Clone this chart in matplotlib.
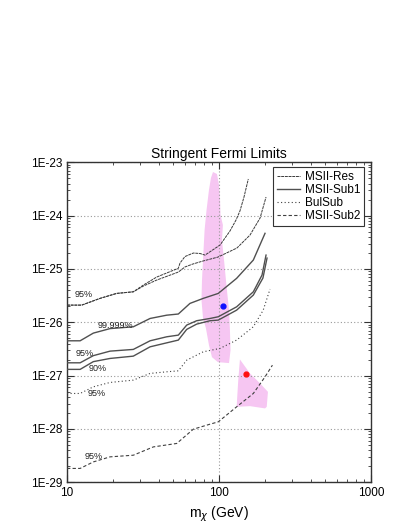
import numpy as np
import matplotlib
matplotlib.use("Agg")
import matplotlib.pyplot as plt
from matplotlib.ticker import LogLocator, FuncFormatter, NullFormatter

plt.rcParams['font.family'] = ['Liberation Sans', 'DejaVu Sans']

# ---------------- data ----------------
res_a_m = [10, 12.5, 16.5, 21.2, 27.3, 31.8, 38.9, 54.0, 55.4, 59.7, 67.8, 75.0, 80.9,
           101.6, 118, 129.4, 137.3, 146, 155.9]
res_a_sv = [2.10e-26, 2.10e-26, 2.81e-26, 3.48e-26, 3.73e-26, 4.99e-26, 7.05e-26, 1.03e-25,
            1.29e-25, 1.71e-25, 1.99e-25, 1.95e-25, 1.82e-25, 2.81e-25, 5.14e-25, 8.27e-25,
            1.22e-24, 2.23e-24, 4.86e-24]

res_b_m = [10, 12.5, 16.5, 21.2, 27.3, 31.8, 38.9, 54.0, 59.7, 67.4, 78.5, 98.4, 131.2,
           160, 186.3, 203.9]
res_b_sv = [2.10e-26, 2.10e-26, 2.81e-26, 3.48e-26, 3.73e-26, 4.78e-26, 6.19e-26, 8.75e-26,
            1.09e-25, 1.24e-25, 1.41e-25, 1.67e-25, 2.47e-25, 4.33e-25, 9.02e-25, 2.23e-24]

sub1_999_m = [10, 12.2, 14.9, 19.2, 27.3, 35.2, 45.3, 54.0, 64.4, 78.8, 98.9, 130.6, 168.2, 200.8]
sub1_999_sv = [4.50e-27, 4.50e-27, 6.27e-27, 7.62e-27, 8.24e-27, 1.18e-26, 1.36e-26, 1.43e-26,
               2.26e-26, 2.81e-26, 3.48e-26, 6.67e-26, 1.47e-25, 4.66e-25]

sub1_95_m = [10, 12.2, 14.9, 19.2, 27.3, 35.2, 45.3, 54.0, 61.3, 71.3, 87.3, 98.9, 130.6,
             168.2, 191.9, 203.9]
sub1_95_sv = [1.74e-27, 1.74e-27, 2.37e-27, 2.88e-27, 3.10e-27, 4.50e-27, 5.35e-27, 5.75e-27,
              8.86e-27, 1.07e-26, 1.18e-26, 1.27e-26, 1.95e-26, 3.73e-26, 7.69e-26, 1.82e-25]

sub1_90_m = [10, 12.2, 14.9, 19.2, 27.3, 35.2, 45.3, 54.0, 61.3, 71.3, 87.3, 98.9, 130.6,
             168.2, 194.5, 207]
sub1_90_sv = [1.31e-27, 1.31e-27, 1.83e-27, 2.10e-27, 2.32e-27, 3.47e-27, 4.12e-27, 4.64e-27,
              7.36e-27, 9.25e-27, 1.07e-26, 1.10e-26, 1.69e-26, 3.24e-26, 6.75e-26, 1.60e-25]

bul_m = [10, 12.2, 14.9, 19.2, 27.3, 35.2, 45.3, 54.0, 61.3, 78.8, 101.6, 130.6, 168.2,
         195.4, 216.6]
bul_sv = [4.63e-28, 4.63e-28, 6.17e-28, 7.45e-28, 8.24e-28, 1.10e-27, 1.18e-27, 1.23e-27,
          1.95e-27, 2.80e-27, 3.24e-27, 4.64e-27, 8.24e-27, 1.69e-26, 4.20e-26]

sub2_m = [10, 12.2, 14.9, 19.2, 27.3, 37.0, 52.7, 67.8, 87.3, 98.9, 130.6, 168.2, 200.8, 224.6]
sub2_sv = [1.82e-29, 1.82e-29, 2.41e-29, 3.00e-29, 3.22e-29, 4.61e-29, 5.35e-29, 9.91e-29,
           1.23e-28, 1.36e-28, 2.60e-28, 4.63e-28, 9.48e-28, 1.57e-27]

blob1_m = [91.3, 97.0, 100, 101.6, 102.3, 106.1, 104.6, 107.9, 111.9, 116.4, 118, 119.1, 116.4,
           98.4, 89.9, 85.9, 82.0, 78.5, 76.7, 77.3, 78.5, 80.4, 82.8, 85.9, 88.5]
blob1_sv = [6.58e-24, 6.03e-24, 3.75e-24, 1.96e-24, 1.03e-24, 6.67e-25, 3.48e-25, 1.47e-25,
            4.99e-26, 1.69e-26, 7.14e-27, 3.01e-27, 1.72e-27, 1.79e-27, 2.22e-27, 3.73e-27,
            7.78e-27, 1.20e-26, 2.61e-26, 6.19e-26, 1.47e-25, 5.37e-25, 1.27e-24, 3.02e-24,
            5.07e-24]

blob2_m = [137.3, 160, 186.3, 209.9, 206.1, 200.8, 160, 130.6, 133.9]
blob2_sv = [2.01e-27, 1.10e-27, 7.14e-28, 4.97e-28, 2.60e-28, 2.43e-28, 2.68e-28, 2.60e-28, 8.24e-28]

best_blue = (105.7, 2.01e-26)
best_red = (150.5, 1.07e-27)

ytick_vals = [1e-29, 1e-28, 1e-27, 1e-26, 1e-25, 1e-24, 1e-23]
ytick_labels = ['1E-29', '1E-28', '1E-27', '1E-26', '1E-25', '1E-24', '1E-23']
xtick_vals = [10, 100, 1000]
xtick_labels = ['10', '100', '1000']

legend_labels = ['MSII-Res', 'MSII-Sub1', 'BulSub', 'MSII-Sub2']

# ---------------- figure ----------------
fig = plt.figure(figsize=(4.07, 5.27), dpi=100)
ax = fig.add_axes([67/407, 1-482.3/527, (371-67)/407, (482.3-162.3)/527])
ax.set_xscale('log')
ax.set_yscale('log')
ax.set_xlim(10, 1000)
ax.set_ylim(1e-29, 1e-23)

pink = '#f6c6f2'
ax.fill(blob1_m, blob1_sv, color=pink, lw=0, zorder=1)
ax.fill(blob2_m, blob2_sv, color=pink, lw=0, zorder=1)

ax.grid(True, which='major', linestyle=(0, (1, 2)), color='#999999', lw=0.8)

res_style = dict(color='#3a3a3a', lw=0.7, linestyle=(0, (3, 0.8)), zorder=3)
sub1_style = dict(color='#505050', lw=1.0, linestyle='-', zorder=3)
bul_style = dict(color='#404040', lw=0.8, linestyle=(0, (1, 2.2)), zorder=3)
sub2_style = dict(color='#404040', lw=0.8, linestyle=(0, (3, 2)), zorder=3)

l1, = ax.plot(res_a_m, res_a_sv, **res_style)
ax.plot(res_b_m, res_b_sv, **res_style)
l2, = ax.plot(sub1_999_m, sub1_999_sv, **sub1_style)
ax.plot(sub1_95_m, sub1_95_sv, **sub1_style)
ax.plot(sub1_90_m, sub1_90_sv, **sub1_style)
l3, = ax.plot(bul_m, bul_sv, **bul_style)
l4, = ax.plot(sub2_m, sub2_sv, **sub2_style)

ax.plot([best_blue[0]], [best_blue[1]], 'o', color='#1010ff', ms=3.5, zorder=4)
ax.plot([best_red[0]], [best_red[1]], 'o', color='#ff1010', ms=3.5, zorder=4)

lab_kw = dict(fontsize=6.5, ha='center', va='center', color='#222222', zorder=5)
ax.text(12.8, 3.34e-26, '95%', **lab_kw)
ax.text(20.7, 8.86e-27, '99.999%', **lab_kw)
ax.text(13.1, 2.61e-27, '95%', **lab_kw)
ax.text(15.8, 1.36e-27, '90%', **lab_kw)
ax.text(15.7, 4.63e-28, '95%', **lab_kw)
ax.text(14.9, 3.09e-29, '95%', **lab_kw)

ax.set_yticks(ytick_vals)
ax.set_yticklabels(ytick_labels)
ax.set_xticks(xtick_vals)
ax.set_xticklabels(xtick_labels)
ax.xaxis.set_minor_locator(LogLocator(base=10, subs=np.arange(2, 10), numticks=20))
ax.yaxis.set_minor_locator(LogLocator(base=10, subs=np.arange(2, 10), numticks=20))
ax.xaxis.set_minor_formatter(NullFormatter())
ax.yaxis.set_minor_formatter(NullFormatter())
ax.tick_params(which='both', direction='in', top=True, right=True, colors='#333333',
               labelcolor='black', labelsize=8.5)
ax.tick_params(which='major', length=5, width=0.8)
ax.tick_params(which='minor', length=2.5, width=0.6)
for s in ax.spines.values():
    s.set_color('#333333')
    s.set_linewidth(1.0)

ax.set_title('Stringent Fermi Limits', fontsize=10, pad=3)
ax.set_xlabel(r'm$_\chi$ (GeV)', fontsize=10, labelpad=4)

leg = ax.legend([l1, l2, l3, l4], legend_labels, loc='upper right',
                bbox_to_anchor=(0.977, 0.985), fontsize=8.5, frameon=True, fancybox=False,
                edgecolor='#333333', framealpha=1, handlelength=2.0, labelspacing=0.1,
                borderpad=0.3, handletextpad=0.4, borderaxespad=0)
leg.get_frame().set_linewidth(0.8)

fig.savefig('out.png', dpi=100)
